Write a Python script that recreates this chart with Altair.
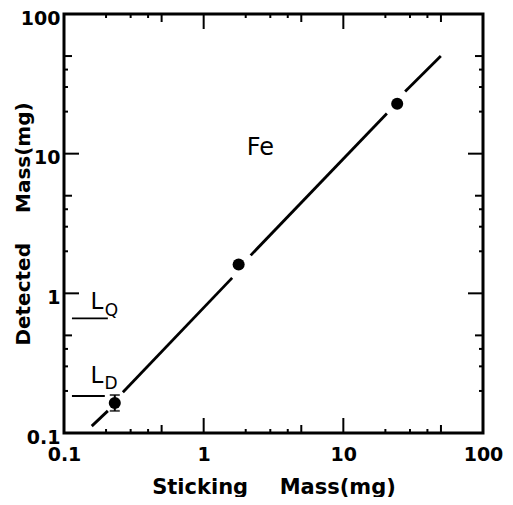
import altair as alt
import pandas as pd

# ---- data ----
pt_x = [0.231, 1.78, 24.3]
pt_y = [0.164, 1.61, 22.8]

seg_x1 = [0.158, 0.264, 2.17, 27.7]
seg_y1 = [0.112, 0.196, 1.87, 27.9]
seg_x2 = [0.206, 1.60, 20.5, 49.9]
seg_y2 = [0.144, 1.29, 19.4, 50.1]

err_x = [0.231]
err_lo = [0.144]
err_hi = [0.187]

lim_sub = ["Q", "D"]
lim_y = [0.662, 0.184]
lim_x1 = [0.114, 0.114]
lim_x2 = [0.206, 0.196]
lim_lx = [0.172, 0.172]
lim_ly = [0.869, 0.258]
lim_sx = [0.219, 0.217]
lim_sy = [0.743, 0.224]

elem_label = ["Fe"]
elem_x = [2.55]
elem_y = [11.0]

axis_vals = [0.1, 1, 10, 100]
major_vals = [1, 10]
mid_vals = [0.5, 5, 50]
minor_vals = [0.2, 0.3, 0.4, 2, 3, 4, 20, 30, 40]

W, H = 419, 419
FONT = "DejaVu Sans"

xs = alt.Scale(type="log", domain=[0.1, 100], nice=False)
ys = alt.Scale(type="log", domain=[0.1, 100], nice=False)

x_axis = alt.Axis(values=axis_vals, format="~g", ticks=False, domain=False, grid=False,
                  labelFont=FONT, labelFontWeight="bold", labelFontSize=19, labelColor="black",
                  labelPadding=12, labelFlush=False, labelOverlap=False,
                  title="Sticking\u2003\u2002Mass(mg)", titleFont=FONT, titleFontWeight="bold",
                  titleFontSize=21, titleColor="black", titleX=W / 2, titleY=54,
                  titleBaseline="middle", titleAlign="center")
y_axis = alt.Axis(values=axis_vals, format="~g", ticks=False, domain=False, grid=False,
                  labelFont=FONT, labelFontWeight="bold", labelFontSize=19, labelColor="black",
                  labelPadding=4, labelFlush=False, labelOverlap=False, labelOffset=4,
                  title="Detected\u2003\u2002Mass(mg)", titleFont=FONT, titleFontWeight="bold",
                  titleFontSize=20, titleColor="black", titleX=-41, titleY=H / 2,
                  titleAngle=270, titleBaseline="middle", titleAlign="center")


def X(f):
    return alt.X(f, scale=xs, axis=x_axis)


def Y(f):
    return alt.Y(f, scale=ys, axis=y_axis)


pts = pd.DataFrame({"x": pt_x, "y": pt_y})
segs = pd.DataFrame({"x1": seg_x1, "y1": seg_y1, "x2": seg_x2, "y2": seg_y2})
errs = pd.DataFrame({"x": err_x, "lo": err_lo, "hi": err_hi})
lims = pd.DataFrame({"sub": lim_sub, "y": lim_y, "x1": lim_x1, "x2": lim_x2,
                     "lx": lim_lx, "ly": lim_ly, "sx": lim_sx, "sy": lim_sy, "L": ["L", "L"]})
elem = pd.DataFrame({"t": elem_label, "x": elem_x, "y": elem_y})

points = alt.Chart(pts).mark_circle(size=145, color="black", opacity=1).encode(
    x=X("x:Q"), y=Y("y:Q"),
)

line = alt.Chart(segs).mark_rule(color="black", strokeWidth=2.8).encode(
    x=X("x1:Q"), y=Y("y1:Q"), x2="x2:Q", y2="y2:Q",
)

ebar = alt.Chart(errs).mark_rule(color="black", strokeWidth=2).encode(
    x=X("x:Q"), y=Y("lo:Q"), y2="hi:Q",
)
cap_lo = alt.Chart(errs).mark_tick(color="black", orient="horizontal", size=10, thickness=2).encode(
    x=X("x:Q"), y=Y("lo:Q"),
)
cap_hi = alt.Chart(errs).mark_tick(color="black", orient="horizontal", size=10, thickness=2).encode(
    x=X("x:Q"), y=Y("hi:Q"),
)

lim_lines = alt.Chart(lims).mark_rule(color="black", strokeWidth=1.8).encode(
    x=X("x1:Q"), x2="x2:Q", y=Y("y:Q"),
)
lim_L = alt.Chart(lims).mark_text(font=FONT, fontSize=23, color="black", baseline="middle",
                                  align="center").encode(
    x=X("lx:Q"), y=Y("ly:Q"), text="L:N",
)
lim_S = alt.Chart(lims).mark_text(font=FONT, fontSize=17, color="black",
                                  baseline="middle", align="center").encode(
    x=X("sx:Q"), y=Y("sy:Q"), text="sub:N",
)
fe = alt.Chart(elem).mark_text(font=FONT, fontSize=24, fontWeight=500, color="black",
                               baseline="middle", align="center").encode(
    x=X("x:Q"), y=Y("y:Q"), text="t:N",
)


def tick_layers(vals, length):
    df = pd.DataFrame({"v": vals})
    base = alt.Chart(df).mark_rule(color="black", strokeWidth=2)
    return [
        base.encode(x=X("v:Q"), y=alt.value(H), y2=alt.value(H - length)),
        base.encode(x=X("v:Q"), y=alt.value(0), y2=alt.value(length)),
        base.encode(y=Y("v:Q"), x=alt.value(0), x2=alt.value(length)),
        base.encode(y=Y("v:Q"), x=alt.value(W), x2=alt.value(W - length)),
    ]


ticks = tick_layers(major_vals, 15) + tick_layers(mid_vals, 8) + tick_layers(minor_vals, 4)

chart = alt.layer(points, line, ebar, cap_lo, cap_hi, lim_lines, lim_L, lim_S, fe, *ticks).properties(
    width=W, height=H,
    autosize=alt.AutoSizeParams(type="none"),
    padding={"left": 56, "top": 6, "right": 22, "bottom": 64},
    background="white",
).configure_view(stroke="black", strokeWidth=3)

chart.save("out.html", embed_options={"renderer": "svg", "actions": False})
